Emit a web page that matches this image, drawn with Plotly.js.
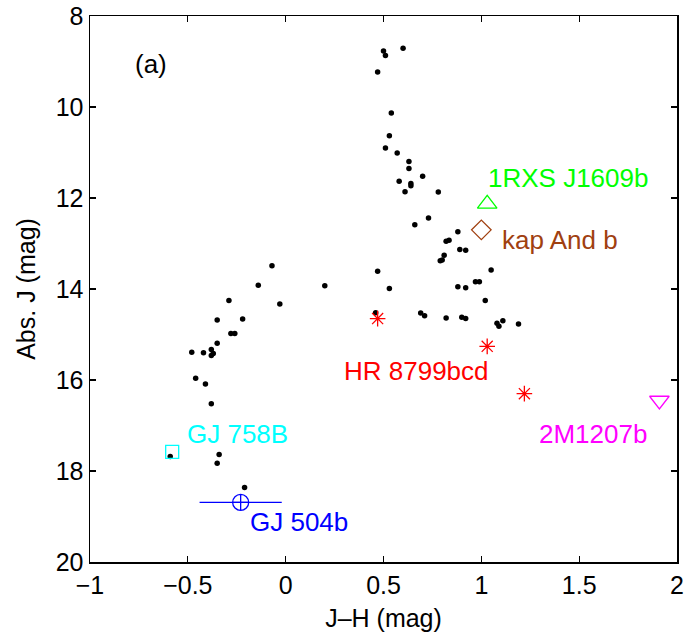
<!DOCTYPE html>
<html>
<head>
<meta charset="utf-8">
<script src="https://cdn.plot.ly/plotly-3.0.1.min.js"></script>
<style>html,body{margin:0;padding:0;background:#fff;}#plot{width:685px;height:635px;}</style>
</head>
<body>
<div id="plot"></div>
<script>
// Field brown dwarfs (J-H, Abs. J)
const fieldJH = [0.50,0.51,0.60,0.47,0.54,0.53,0.51,0.57,0.63,0.63,0.70,0.58,0.64,0.64,0.61,0.78,
  0.73,0.66,0.88,0.82,0.835,0.89,0.92,0.81,0.79,0.80,1.05,0.47,0.20,0.53,0.88,0.92,0.97,0.99,1.02,
  0.46,0.69,0.71,0.82,0.90,0.92,1.08,1.09,1.11,1.19,
  -0.07,-0.14,-0.03,-0.29,-0.35,-0.22,-0.28,-0.26,-0.35,-0.48,-0.42,-0.38,-0.37,-0.38,-0.46,-0.41,
  -0.38,-0.59,-0.34,-0.35,-0.21];
const fieldAbsJ = [8.77,8.87,8.71,9.23,10.13,10.63,10.90,11.01,11.20,11.35,11.52,11.63,11.68,11.73,11.86,11.87,
  12.44,12.59,12.74,12.95,12.93,13.13,13.15,13.26,13.38,13.36,13.58,13.61,13.93,13.99,13.95,13.97,13.84,13.84,14.25,
  14.52,14.53,14.59,14.64,14.62,14.65,14.75,14.82,14.70,14.77,
  13.49,13.92,14.33,14.25,14.68,14.66,14.98,14.98,15.19,15.39,15.40,15.33,15.42,15.46,15.96,16.09,
  16.52,17.68,17.64,17.83,18.36];

// Directly imaged companions
const hr8799JH = [0.47,1.03,1.22];
const hr8799AbsJ = [14.65,15.26,16.30];
const m1207JH = [1.91];
const m1207AbsJ = [16.45];
const rxsJH = [1.03];
const rxsAbsJ = [12.13];
const kapJH = [1.00];
const kapAbsJ = [12.70];
const gj758JH = [-0.58];
const gj758AbsJ = [17.58];
const gj504JH = [-0.23];
const gj504AbsJ = [18.69];
const gj504JHerr = [0.21];

// Axis ticks
const xTicks = [-1,-0.5,0,0.5,1,1.5,2];
const xTickText = ['\u22121','\u22120.5','0','0.5','1','1.5','2'];
const yTicks = [8,10,12,14,16,18,20];

// Labels
const labelText = ['1RXS J1609b','kap And b','HR 8799bcd','2M1207b','GJ 758B','GJ 504b','(a)'];
const labelX = [1.025,1.093,0.287,1.287,-0.516,-0.193,-0.78];
const labelY = [11.554,12.915,15.80,17.19,17.19,19.12,9.05];
const labelColor = ['#00FF00','#A04010','#FF0000','#FF00FF','#00FFFF','#0000FF','#000000'];

const font = 'Liberation Sans, Arial, Helvetica, sans-serif';

const traces = [
  {x: fieldJH, y: fieldAbsJ, mode: 'markers', type: 'scatter',
   marker: {color: '#000', size: 5.5}},
  {x: hr8799JH, y: hr8799AbsJ, mode: 'markers', type: 'scatter',
   marker: {symbol: 'asterisk-open', size: 13, color: '#FF0000', line: {color: '#FF0000', width: 1.3}}},
  {x: m1207JH, y: m1207AbsJ, mode: 'markers', type: 'scatter',
   marker: {symbol: 'triangle-down-open', size: 17, color: '#FF00FF', line: {color: '#FF00FF', width: 1.3}}},
  {x: rxsJH, y: rxsAbsJ, mode: 'markers', type: 'scatter',
   marker: {symbol: 'triangle-up-open', size: 17, color: '#00FF00', line: {color: '#00FF00', width: 1.3}}},
  {x: kapJH, y: kapAbsJ, mode: 'markers', type: 'scatter',
   marker: {symbol: 'diamond-open', size: 15, color: '#A04010', line: {color: '#A04010', width: 1.3}}},
  {x: gj758JH, y: gj758AbsJ, mode: 'markers', type: 'scatter',
   marker: {symbol: 'square-open', size: 13, color: '#00FFFF', line: {color: '#00FFFF', width: 1.3}}},
  {x: gj504JH, y: gj504AbsJ, mode: 'markers', type: 'scatter',
   error_x: {type: 'data', array: gj504JHerr, color: '#0000FF', thickness: 1.3, width: 0},
   marker: {symbol: 'circle-cross-open', size: 16, color: '#0000FF', line: {color: '#0000FF', width: 1.3}}}
];

const annotations = labelText.map((t, i) => ({
  text: t, x: labelX[i], y: labelY[i], xref: 'x', yref: 'y',
  xanchor: 'left', yanchor: 'middle', showarrow: false,
  font: {family: font, size: 26, color: labelColor[i]}
}));

const layout = {
  width: 685, height: 635,
  margin: {l: 89.5, r: 8, t: 16, b: 72.5},
  paper_bgcolor: '#fff', plot_bgcolor: '#fff',
  showlegend: false,
  font: {family: font, size: 25, color: '#000'},
  xaxis: {
    range: [-1, 2], tickvals: xTicks, ticktext: xTickText,
    ticks: 'inside', ticklen: 6, tickwidth: 1.3, tickcolor: '#000',
    showline: true, linecolor: '#000', linewidth: 1.5, mirror: 'ticks',
    showgrid: false, zeroline: false,
    tickfont: {family: font, size: 25, color: '#000'},
    title: {text: 'J\u2013H (mag)', font: {family: font, size: 25, color: '#000'}, standoff: 12}
  },
  yaxis: {
    range: [20, 8], tickvals: yTicks,
    ticks: 'inside', ticklen: 6, tickwidth: 1.3, tickcolor: '#000',
    showline: true, linecolor: '#000', linewidth: 1.5, mirror: 'ticks',
    showgrid: false, zeroline: false,
    tickfont: {family: font, size: 25, color: '#000'},
    title: {text: 'Abs. J (mag)', font: {family: font, size: 25, color: '#000'}, standoff: 13}
  },
  annotations: annotations
};

Plotly.newPlot('plot', traces, layout, {staticPlot: true, displayModeBar: false});
</script>
</body>
</html>
